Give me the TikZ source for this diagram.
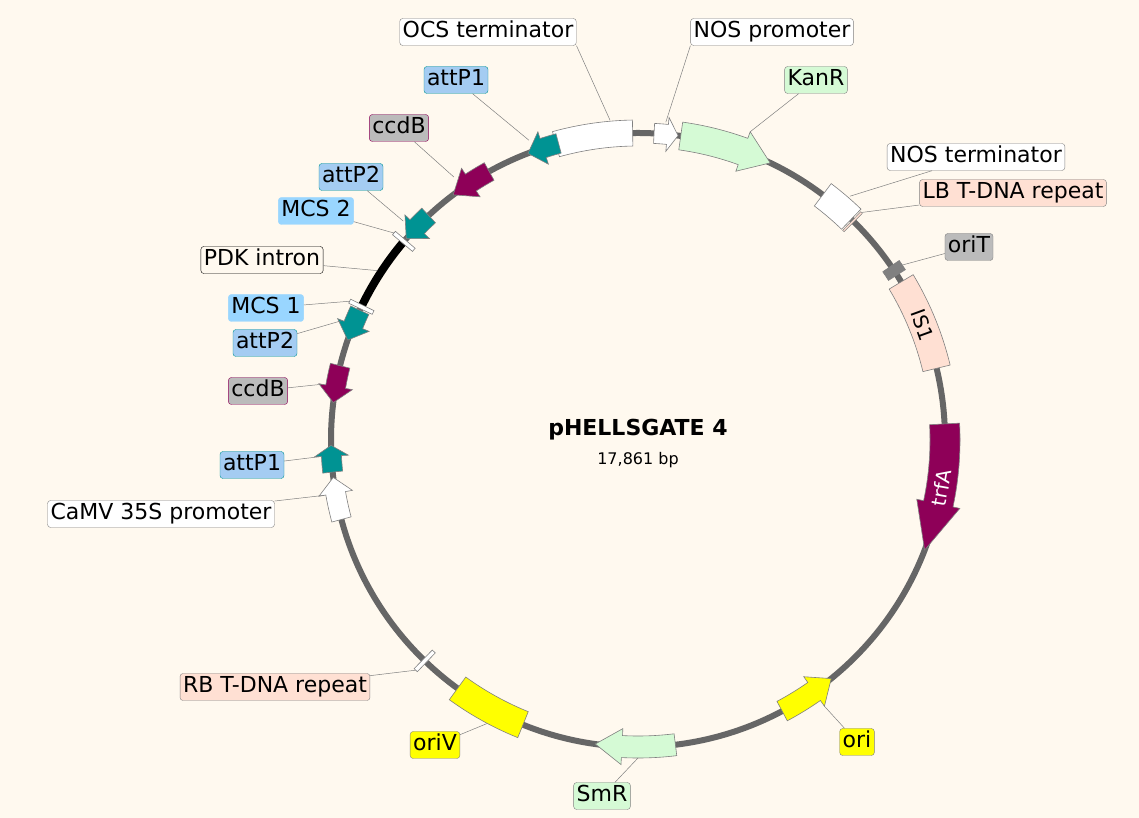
\documentclass[tikz,border=0pt]{standalone}
\usepackage{fontspec}
\setmainfont{DejaVu Sans}
\usetikzlibrary{calc}
\definecolor{bg}{HTML}{FFF9EF}
\definecolor{bb}{HTML}{666666}
\definecolor{teal2}{HTML}{009393}
\definecolor{purp}{HTML}{8E0058}
\definecolor{grn}{HTML}{D5FAD5}
\definecolor{peach}{HTML}{FFE0D3}
\definecolor{attb}{HTML}{A4CCF2}
\definecolor{mcsb}{HTML}{99D6FF}
\definecolor{yel}{HTML}{FFFF00}
\definecolor{gry}{HTML}{BBBBBB}
\newcommand\Rr{307}
\newcommand\featbox[4]{\filldraw[fill=#4,draw=gray,line width=0.6pt] ($(C)+(#1:\Rr pt-#3pt)$) arc[start angle=#1,end angle=#2,radius=\Rr pt-#3pt] -- ($(C)+(#2:\Rr pt+#3pt)$) arc[start angle=#2,end angle=#1,radius=\Rr pt+#3pt] -- cycle;}
\newcommand\farr[6]{\filldraw[fill=#6,draw=gray,line width=0.6pt] ($(C)+(#1:\Rr pt-#4pt)$) arc[start angle=#1,end angle=#2,radius=\Rr pt-#4pt] -- ($(C)+(#2:\Rr pt-#5pt)$) -- ($(C)+(#3:\Rr pt)$) -- ($(C)+(#2:\Rr pt+#5pt)$) -- ($(C)+(#2:\Rr pt+#4pt)$) arc[start angle=#2,end angle=#1,radius=\Rr pt+#4pt] -- cycle;}
\newcommand\fmark[1]{\draw[gray,line width=0.6pt,fill=white] ($(C)+(#1-0.4:\Rr pt-13pt)$) -- ($(C)+(#1-0.4:\Rr pt+13pt)$) -- ($(C)+(#1+0.4:\Rr pt+13pt)$) -- ($(C)+(#1+0.4:\Rr pt-13pt)$) -- cycle;}
\tikzset{lab/.style={draw=gray,rounded corners=3pt,inner sep=3pt,font=\fontsize{22}{24}\selectfont,text height=16pt,text depth=5pt},
lead/.style={draw=gray,line width=0.5pt}}
\begin{document}
\begin{tikzpicture}[x=1pt,y=1pt]
\fill[bg] (0,0) rectangle (1139,818);
\useasboundingbox (0,0) rectangle (1139,818);
\coordinate (C) at (638,378);
\draw[bb,line width=6pt] (C) circle[radius=\Rr pt];
\draw[black,line width=8pt] ($(C)+(140:\Rr pt)$) arc[start angle=140,end angle=154,radius=\Rr pt];
\featbox{91}{105.5}{13}{white}
\farr{105}{108}{111}{10}{17}{teal2}
\farr{119}{123}{127}{10}{17}{purp}
\farr{133}{136}{139}{10}{17}{teal2}
\fmark{139.7}
\fmark{154.3}
\farr{155}{158}{161}{10}{17}{teal2}
\farr{166}{170}{173}{10}{17}{purp}
\farr{186}{183}{181}{10}{17}{teal2}
\farr{195}{190}{187}{10}{17}{white}
\fmark{226}
\featbox{234}{248}{14}{yel}
\farr{277}{267}{262}{11}{18}{grn}
\farr{298}{305}{309}{11}{18}{yel}
\farr{3}{-12}{-21}{15}{22}{purp}
\featbox{13.5}{31}{14}{peach}
\featbox{32.5}{34.5}{10}{gray}
\featbox{46}{53}{14}{white}
\farr{82}{70}{64.5}{14}{21}{grn}
\farr{87}{84.5}{82.5}{10}{17}{white}
\draw[gray,line width=0.5pt,fill=peach] ($(C)+(45.3:\Rr pt-14pt)$) -- ($(C)+(45.3:\Rr pt+12pt)$) -- ($(C)+(45.7:\Rr pt+12pt)$) -- ($(C)+(45.7:\Rr pt-14pt)$) -- cycle;
\node[rotate=-70,font=\fontsize{20}{22}\selectfont] (is1) at ($(C)+(22:\Rr pt)$) {IS1};
\node[rotate=80,text=white,font=\fontsize{20}{22}\selectfont] (trfa) at ($(C)+(-9:\Rr pt)$) {trfA};
\coordinate (fOCS) at ($(C)+(95:\Rr pt+14pt)$);
\coordinate (fNOSp) at ($(C)+(85:\Rr pt+12pt)$);
\coordinate (fKan) at ($(C)+(70:\Rr pt+21pt)$);
\coordinate (fNOSt) at ($(C)+(49:\Rr pt+16pt)$);
\coordinate (fLB) at ($(C)+(45.5:\Rr pt+12pt)$);
\coordinate (foriT) at ($(C)+(33.5:\Rr pt+10pt)$);
\coordinate (fA1) at ($(C)+(110:\Rr pt+12pt)$);
\coordinate (fccdB1) at ($(C)+(125:\Rr pt+14pt)$);
\coordinate (fA2) at ($(C)+(137:\Rr pt+14pt)$);
\coordinate (fMCS2) at ($(C)+(139.7:\Rr pt+13pt)$);
\coordinate (fPDK) at ($(C)+(147:\Rr pt+4pt)$);
\coordinate (fMCS1) at ($(C)+(154.3:\Rr pt+13pt)$);
\coordinate (fA2b) at ($(C)+(158:\Rr pt+12pt)$);
\coordinate (fccdB2) at ($(C)+(170:\Rr pt+14pt)$);
\coordinate (fA1b) at ($(C)+(183:\Rr pt+12pt)$);
\coordinate (fCaMV) at ($(C)+(190:\Rr pt+12pt)$);
\coordinate (fRB) at ($(C)+(226:\Rr pt+13pt)$);
\coordinate (foriV) at ($(C)+(242:\Rr pt+14pt)$);
\coordinate (fSmR) at ($(C)+(270:\Rr pt+11pt)$);
\coordinate (fori) at ($(C)+(305:\Rr pt+18pt)$);
\node[lab,fill=white] (lOCS) at (488,786) {OCS terminator};
\node[lab,fill=white] (lNOSp) at (772,786) {NOS promoter};
\node[lab,fill=grn] (lKan) at (816,738) {KanR};
\node[lab,fill=white] (lNOSt) at (976,661) {NOS terminator};
\node[lab,fill=peach] (lLB) at (1013,625) {LB T-DNA repeat};
\node[lab,fill=gry] (loriT) at (969,571) {oriT};
\node[lab,fill=attb,draw=teal2] (lA1) at (456,738) {attP1};
\node[lab,fill=gry,draw=purp] (lccdB1) at (399,690) {ccdB};
\node[lab,fill=attb,draw=teal2] (lA2) at (351,641) {attP2};
\node[lab,fill=mcsb,draw=mcsb] (lMCS2) at (316,607) {MCS 2};
\node[lab,fill=bg,draw=black] (lPDK) at (262,558) {PDK intron};
\node[lab,fill=mcsb,draw=mcsb] (lMCS1) at (266,510) {MCS 1};
\node[lab,fill=attb,draw=teal2] (lA2b) at (265,475) {attP2};
\node[lab,fill=gry,draw=purp] (lccdB2) at (258,427) {ccdB};
\node[lab,fill=attb,draw=teal2] (lA1b) at (252,353) {attP1};
\node[lab,fill=white] (lCaMV) at (161,304) {CaMV 35S promoter};
\node[lab,fill=peach] (lRB) at (275,131) {RB T-DNA repeat};
\node[lab,fill=yel] (loriV) at (435,73) {oriV};
\node[lab,fill=grn] (lSmR) at (602,22) {SmR};
\node[lab,fill=yel] (lori) at (857,76) {ori};
\draw[lead] (fOCS) -- (lOCS.south east);
\draw[lead] (fNOSp) -- (lNOSp.south west);
\draw[lead] (fKan) -- (lKan);
\draw[lead] (fNOSt) -- (lNOSt);
\draw[lead] (fLB) -- (lLB);
\draw[lead] (foriT) -- (loriT);
\draw[lead] (fA1) -- (lA1);
\draw[lead] (fccdB1) -- (lccdB1);
\draw[lead] (fA2) -- (lA2);
\draw[lead] (fMCS2) -- (lMCS2);
\draw[lead] (fPDK) -- (lPDK);
\draw[lead] (fMCS1) -- (lMCS1);
\draw[lead] (fA2b) -- (lA2b);
\draw[lead] (fccdB2) -- (lccdB2);
\draw[lead] (fA1b) -- (lA1b);
\draw[lead] (fCaMV) -- (lCaMV);
\draw[lead] (fRB) -- (lRB);
\draw[lead] (foriV) -- (loriV);
\draw[lead] (fSmR) -- (lSmR);
\draw[lead] (fori) -- (lori);
\node[font=\bfseries\fontsize{22}{24}\selectfont] (title) at (638,388) {pHELLSGATE 4};
\node[font=\fontsize{16}{18}\selectfont] (bp) at (638,358) {17,861 bp};
\end{tikzpicture}
\end{document}
